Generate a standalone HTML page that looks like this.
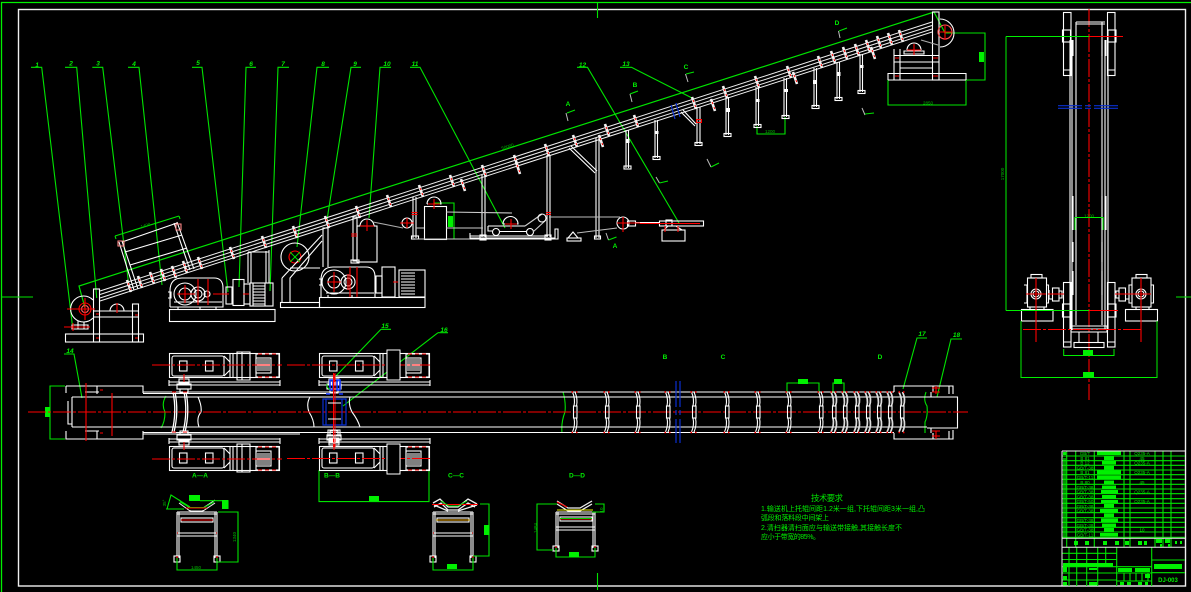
<!DOCTYPE html>
<html><head><meta charset="utf-8"><title>Belt conveyor drawing</title>
<style>html,body{margin:0;padding:0;background:#000;width:1191px;height:592px;overflow:hidden}svg{display:block}
text{font-family:"Liberation Sans","Noto Sans CJK SC",sans-serif;fill:#00f000}
.w{stroke:#fff;fill:none;stroke-width:1.1}.g{stroke:#00e400;fill:none;stroke-width:1.1}.r{stroke:#f00;fill:none;stroke-width:1.1}.b{stroke:#0a2fd0;fill:none;stroke-width:1.2}
.cl{stroke:#f00;fill:none;stroke-width:1.1;stroke-dasharray:18 2 3 2}.gb{fill:#00f000;stroke:none}
.n{font-size:6.5px;font-style:italic;font-weight:bold;text-anchor:middle}.s{font-size:6.5px;font-weight:bold;text-anchor:middle}.d{font-size:4.5px;text-anchor:middle;fill:#00b800}
</style></head><body>
<svg width="1191" height="592" viewBox="0 0 1191 592" xmlns="http://www.w3.org/2000/svg">
<defs>
<g id="idl"><path d="M-2,-6 L2,6" stroke="#f4f4f4" stroke-width="2.6" fill="none"/><path d="M-1,-3 l1,2 M1,2 l.7,2" stroke="#f00" stroke-width="1" fill="none"/></g>
<g id="pi"><path d="M-1.5,392 Q1.5,399 0,406 M1,392 Q4,399 2.5,406 M-1.5,432 Q1.5,425 0,418 M1,432 Q4,425 2.5,418" class="w"/><rect x="-.5" y="406" width="3.5" height="12" class="w"/><path d="M-2.5,392h1.5M2,392h1.5M-2.5,432.5h1.5M2,432.5h1.5" stroke="#f00" stroke-width="1.4"/></g>
<g id="pi2"><path d="M-2,392 Q1.5,399 0,406 M1.5,392 Q5,399 2.5,406 M-2,432 Q1.5,425 0,418 M1.5,432 Q5,425 2.5,418" stroke="#ddd" stroke-width="1.7" fill="none"/><rect x="-.5" y="406" width="3.5" height="12" class="w"/><path d="M-2.5,392h1.5M2,392h1.5M-2.5,432.5h1.5M2,432.5h1.5" stroke="#f00" stroke-width="1.4"/></g>
<g id="pu" class="w">
<rect x="169.5" y="353.5" width="110" height="24"/><rect x="172" y="356" width="52" height="20" rx="2"/><rect x="179.5" y="361" width="7.5" height="10"/><rect x="205.5" y="361" width="7.5" height="10"/>
<path d="M224,356 l6,6 v8 l-6,6 M230,354v23M233,354v23M237,352v28h13v-28zM242,352v28"/>
<rect x="256" y="354" width="23" height="23"/><rect x="256" y="358" width="15" height="15"/><path d="M257,360h13M257,362h13M257,364h13M257,366h13M257,368h13M257,370h13"/>
<path d="M258,354h4M265,354h4M272,354h4M258,377h4M265,377h4M272,377h4" stroke="#f00"/>
<path d="M169,382h111M169,385h111M169,380v6M280,380v6"/>
<rect x="179" y="379" width="10" height="4"/><rect x="177" y="384" width="14" height="5"/><rect x="180" y="389" width="8" height="4"/>
<path d="M184,374v8" class="cl" stroke-dasharray="none"/>
</g>
<g id="leg" class="w"><path d="M0,0v46M2,0v46M38,0v46M40,0v46"/><path d="M0,0h40M0,2h40"/><rect x="-3" y="44" width="6" height="6" /><rect x="37" y="44" width="6" height="6"/><path d="M0,21h40M0,24h40"/><rect x="4" y="6" width="32" height="4"/><path d="M4,8h32" stroke="#f00"/><path d="M0,44v4M40,44v4M0,21h1M39,21h1" stroke="#f00"/></g>
</defs>
<rect width="1191" height="592" fill="#000"/>
<!-- borders -->
<path d="M1.5,592V2.5H1191" stroke="#00f000" stroke-width="1.3" fill="none"/>
<rect x="18.5" y="9.5" width="1167" height="576.5" fill="none" stroke="#f0f0f0" stroke-width="1.4"/>
<path d="M1.5,297H33M1176,297H1191M597.5,3V18M597.5,573V590" class="g"/>

<!-- leaders + dims -->
<g class="g">
<path d="M31,67.3H41.7L72.7,328M65,67.3H76.7L96.7,298M92.3,67.3H102.7L129,287M128,67.3H139L162,285M192,67.3H202L228,292M256,67.3H246L239,287M289,67.3H278L270,291M329,67.3H317L297,247M361,67.3H351L327,220M391,67.3H380L369,218M410,67.3H420L505,228M577,67.3H587.5L679,223M620,67.3H631.5L694,99"/>
<path d="M85,308L79,286L934,12L945,33" stroke-width="1.2"/>
<path d="M115,236L179,216M115,236l1,3M179,216l1,3"/>
<path d="M945,33H985V80H945M888,80V105H966V80M757,126V134H785V117"/>
<path d="M434,203H454V239H434"/>
<path d="M381,329.3H391M381,329.3L335,377M438,332.7H448M438,332.7L343,406M64,354H74L82,398M927,338H917L903,389M962,339H951L937,397"/>
<path d="M65,386H50V439H65M787,393V383H819V393M833,393V383H844V393M319,470V501.6H429V470"/>
<path d="M166,396 Q161,404 165,412 Q165,422 161,428M563,392 Q566,402 565,412 Q561,422 562,433M926,392 Q923,400 927,406 Q928,416 925,422V433"/>
</g>
<g class="gb"><rect x="448" y="216" width="5" height="11"/><rect x="979" y="52" width="5" height="10"/><rect x="45" y="407" width="5" height="10"/><rect x="798" y="379" width="10" height="5"/><rect x="834" y="379" width="8" height="5"/><rect x="369" y="496" width="10" height="5"/></g>
<g>
<text class="n" x="37" y="67">1</text><text class="n" x="71" y="65.5">2</text><text class="n" x="98" y="65.5">3</text><text class="n" x="134" y="66">4</text><text class="n" x="198" y="65">5</text><text class="n" x="251" y="66">6</text><text class="n" x="283" y="66">7</text><text class="n" x="323" y="66">8</text><text class="n" x="355" y="66">9</text><text class="n" x="387" y="66">10</text><text class="n" x="415" y="66">11</text><text class="n" x="582.5" y="67">12</text><text class="n" x="626" y="66">13</text>
<text class="n" x="70" y="353">14</text><text class="n" x="385" y="328">15</text><text class="n" x="444" y="332">16</text><text class="n" x="922" y="336">17</text><text class="n" x="956.5" y="337">18</text>
<text class="d" transform="translate(508,148) rotate(-18)">50000</text><text class="d" transform="translate(146,227) rotate(-18)">1400</text>
<text class="d" x="928" y="104.5">2850</text><text class="d" x="770" y="133">1200</text><text class="d" x="1089" y="217.5">1200</text>
<text class="d" transform="translate(1004,174) rotate(-90)">17000</text>
</g>
<!-- section markers -->
<g>
<text class="s" x="568" y="106">A</text><text class="s" x="635" y="87">B</text><text class="s" x="686" y="69">C</text><text class="s" x="837" y="25">D</text><text class="s" x="615" y="248">A</text>
<text class="s" x="665" y="359">B</text><text class="s" x="723" y="359">C</text><text class="s" x="880" y="359">D</text>
<text class="s" x="200" y="477.5">A—A</text><text class="s" x="332" y="477.5">B—B</text><text class="s" x="456" y="477.5">C—C</text><text class="s" x="577" y="477.5">D—D</text>
</g>
<path d="M566,113l2,8M630,94l2,8M685.5,74l2.5,8M838.5,31l1.5,7M862,108l3,7M707,159l4,8M656,177l3.5,6M606,233l2.5,7" stroke="#bbb" fill="none"/>
<path d="M567,113l8,-3M630,94l8,-3M686,74l8,-2M839,31l8,-3M865,114l9,-1M711,167l8,-4M659.5,183l8.5,-2M608.5,240l8,-3" class="g"/>

<!-- belt -->
<g stroke="#f0f0f0" fill="none" stroke-width="1">
<path d="M100,291L932,22M100,294.5L932,25.5M100,298L932,29M100,301L932,32"/>
</g>
<!-- idlers -->
<g>
<use href="#idl" x="129" y="286"/><use href="#idl" x="140" y="282"/><use href="#idl" x="152" y="278"/><use href="#idl" x="163" y="275"/><use href="#idl" x="174" y="272"/><use href="#idl" x="185" y="267"/><use href="#idl" x="200" y="263"/><use href="#idl" x="232" y="253"/><use href="#idl" x="264" y="242"/><use href="#idl" x="295" y="232"/><use href="#idl" x="327" y="222"/><use href="#idl" x="358" y="212"/><use href="#idl" x="389" y="201"/><use href="#idl" x="421" y="191"/><use href="#idl" x="452" y="181"/><use href="#idl" x="484" y="171"/><use href="#idl" x="516" y="161"/><use href="#idl" x="547" y="150"/><use href="#idl" x="575" y="141"/><use href="#idl" x="607" y="130"/><use href="#idl" x="636" y="121"/><use href="#idl" x="694" y="103"/><use href="#idl" x="725" y="92"/><use href="#idl" x="757" y="82"/><use href="#idl" x="789" y="72"/><use href="#idl" x="820" y="62"/><use href="#idl" x="833" y="57"/><use href="#idl" x="845" y="53"/><use href="#idl" x="857" y="50"/><use href="#idl" x="868" y="46"/><use href="#idl" x="879" y="42"/><use href="#idl" x="890" y="39"/><use href="#idl" x="901" y="36"/>
<use href="#idl" x="463" y="185"/><use href="#idl" x="518" y="168"/><use href="#idl" x="601" y="141"/><use href="#idl" x="713" y="105"/><use href="#idl" x="795" y="78"/><use href="#idl" x="873" y="53"/>
</g>
<!-- supports -->
<g class="w">
<path d="M413,197V238M416,197V238M482,175V237M485,175V237M547,155V237M550,155V237M596,138V238M599,138V238M626,130V168M628.5,130V168M655,120V158M657.5,120V158M697,107V144M700,107V144M726,97V135M728.5,97V135M756,87V126M758.5,87V126M784,78V117M786.5,78V117M814,68V107M816.5,68V107M837,62V99M839.5,62V99M860,54V92M862.5,54V92"/>
<rect x="411.5" y="236" width="7" height="3"/><rect x="594.5" y="236" width="6" height="3"/><rect x="624" y="166" width="7" height="3"/><rect x="653" y="156.5" width="7" height="3"/><rect x="695" y="142.5" width="7" height="3"/><rect x="724" y="133.5" width="7" height="3"/><rect x="754" y="124.5" width="7" height="3"/><rect x="782" y="115.5" width="7" height="3"/><rect x="812" y="105.5" width="7" height="3"/><rect x="835" y="97.5" width="7" height="3"/><rect x="858" y="90.5" width="7" height="3"/>
<path d="M569,148L595,173M571,146L597,171M681,112L695,126M683,110L696,124"/>
</g>
<g fill="#fff"><rect x="625.5" y="139" width="4" height="4"/><rect x="654.5" y="131" width="4" height="3"/><rect x="726" y="108" width="4" height="4"/><rect x="755.5" y="99" width="4" height="3"/><rect x="784" y="89" width="4" height="3"/><rect x="813" y="80" width="4" height="4"/><rect x="836.5" y="72" width="4" height="4"/><rect x="859.5" y="65" width="4" height="3"/></g>
<path d="M696.5,119.500h5v3h-5zM411.500,212.500h6M411.500,214.500h6M481,212.500h5M546,212.500h5M546,214.500h5" stroke="#f00" fill="none"/>
<path d="M671,105l4,14M676,103l4,14" class="b"/>

<!-- hopper -->
<g class="w">
<path d="M119,242L134,290M122,241L138,289M174,223L190,270M177,222L194,269"/>
<path d="M122,242L177,223M125,252L182,235M130,265L187,248"/>
<path d="M118,241h6v5h-6zM176,224h5v6h-5z" stroke="#f88"/>
</g>
<!-- left end -->
<g class="w">
<path d="M93,300A13,13 0 1 0 93,318"/><circle cx="85" cy="309" r="6" stroke="#f00"/><circle cx="85" cy="309" r="3.500" stroke="#f66"/>
<rect x="93.500" y="289" width="6" height="53"/><path d="M93,311H138M93,317H138"/><rect x="132.500" y="304" width="6" height="38"/>
<rect x="65.500" y="334" width="78" height="8"/><path d="M93,334H138"/>
<path d="M110,311A7,7 0 0 1 124,311"/><path d="M72,325h16v4h-16z M78,321v8M84,322v7"/>
</g>
<path d="M67,309H95M85,298V320M117,303V313M64,327H90M73,323V331M96,314h3M135,315h3M135,338h3M96,338h3" class="r"/>
<!-- drive 1 -->
<g class="w">
<rect x="169.500" y="309.500" width="105.500" height="12"/>
<path d="M170,307V291Q170,278 182,278H214Q223,278 223,288V307H170M168,292h3v6h-3M174,302h48M178,307v2M200,307v2M216,307v2"/>
<circle cx="185" cy="294" r="11"/><circle cx="185" cy="294" r="6"/><circle cx="198" cy="294" r="7"/><circle cx="198" cy="294" r="4"/><circle cx="207" cy="294" r="3"/>
<rect x="226" y="287" width="6" height="17"/><rect x="233" y="279.500" width="11" height="26"/><rect x="244" y="284" width="6" height="20"/>
<rect x="250" y="283" width="23" height="23"/><path d="M253,286h12M253,289h12M253,292h12M253,295h12M253,298h12M253,301h12M253,304h12M253,283v23M265,283v23"/>
<path d="M248,283V252M251,283V252M266,283V251M269,283V250M248,252h21"/>
</g>
<path d="M177,294H195M185,285V303M198,279V305M208,279V305M213,294H229M243,294H249" class="r"/>
<!-- drive 2 -->
<g class="w">
<rect x="319.500" y="297.500" width="105.500" height="10"/><rect x="280.500" y="302.500" width="39" height="5"/>
<path d="M321,297V280Q321,267 333,267H366Q375,267 375,277V297M319,279h3v6h-3M326,293h48M328,297v-2M352,297v-2"/>
<circle cx="334" cy="282" r="12"/><circle cx="334" cy="282" r="6"/><circle cx="348" cy="282" r="7"/><circle cx="348" cy="282" r="4"/>
<rect x="376" y="276" width="6" height="17"/><rect x="382" y="267" width="13" height="30"/><rect x="399" y="270" width="26" height="27"/><path d="M401,273h14M401,276h14M401,279h14M401,282h14M401,285h14M401,288h14M401,291h14M401,294h14"/>
<circle cx="295" cy="257" r="14"/><circle cx="295" cy="257" r="6" stroke="#f00"/>
<path d="M282,278L322,235M282,302V278M290,302V278L322,241M323,267V228H328V267M323,228h5M290,268H320"/>
<rect x="353" y="217" width="4" height="44"/><rect x="351" y="260" width="8" height="3"/><rect x="357" y="226" width="20" height="36"/><path d="M360,226A7,7 0 0 1 374,226"/>
<path d="M373,222L403,228" stroke="#aaa"/><circle cx="407" cy="223" r="5"/>
</g>
<path d="M327,282H341M334,272V292M348,274V290M350,267V297M357,267V297M393,282H398M367,220V231M360,226H374M400,223H414M407,218V228" class="r"/><path d="M351,234h6M351,236h6" stroke="#f00"/>
<path d="M290,252L300,262M300,252L290,262" stroke="#00e000"/>
<!-- take-up -->
<g class="w">
<rect x="424.500" y="206.500" width="22" height="33"/><path d="M427,204A7,7 0 0 1 441,204H427"/>
<path d="M446,212L512,213M446,228H483M416,228H424M415,239H483" stroke="#ccc"/>
<path d="M503,224A7.500,7.500 0 0 1 518,224H503M488,226H525M488,226v5h4M500,231.500h26"/><circle cx="496" cy="232" r="3.500"/><circle cx="530" cy="232" r="3.500"/>
<path d="M525,226L542,214M546,220L533,232" stroke="#ccc"/><circle cx="542" cy="218" r="4"/>
<path d="M470,233V238H555V229H558V239H470M470,236H548"/><rect x="480" y="235" width="6" height="5"/><rect x="545" y="235" width="6" height="5"/>
<path d="M549,217H620M577,233L617,228" stroke="#bbb"/>
<path d="M568,238L573,232L578,238Z"/><rect x="567" y="238" width="14" height="3"/>
<circle cx="623" cy="223" r="6"/><rect x="627.500" y="221" width="8" height="5"/><path d="M635,222.500H659" /><rect x="659.500" y="221" width="44" height="5"/><rect x="666" y="220" width="6" height="6"/>
<rect x="662" y="230" width="23" height="11"/><path d="M664,230L668,226H676L682,230"/>
</g>
<path d="M623,217V232M617,223H640M640,223.500H700M665,226V232M678,226V232M434,199V209M428,204H440M511,219V229M505,224H517" class="r"/>
<!-- right head -->
<g class="w">
<rect x="932.500" y="12" width="6.500" height="68"/>
<path d="M940,19A14,14 0 0 1 940,47"/><circle cx="945" cy="32" r="7" stroke="#f55"/>
<path d="M894,55.500H939M894,62H939M894,49V80M900,49V80M888,73.500H966M888,80H966M888,73V80M966,73V80M900,68H932"/>
<path d="M907,50A7,7 0 0 1 921,50M904,54h20v-3h-20z"/>
<path d="M921,40L938,45" stroke="#aaa"/>
</g>
<path d="M939,32H952M945,25V40M914,44V55M907,50H921M895,58h4M933,58h5M895,76h4M933,76h5" class="r"/>

<!-- plan view -->
<g class="w">
<path d="M143,392H894M143,393.500H330M72,397H927M72,427H927M143,432.500H894M143,434H300"/>
<path d="M72,397V427M68,401V424H72M66,386H143V393M66,386V393M66,431V439H143V431M927,397H957.500V428H927"/>
<path d="M97,386V394M97,431V439M85,392h14M85,431h14"/>
<path d="M198,397Q202,406 201,412Q196,418 199,427M310,397Q306,404 309,412Q314,420 314,427M350,397Q348,404 352,412Q358,420 360,427"/>
<path d="M894,392V386H933V392M894,433V439H933V433M931,386H953V394M931,439H953V430M931,392V397M931,428V433M949,386V394M949,431V439"/>
</g>
<path d="M86,383V441M112,393V436M100,390h3M100,433h3M932,388h8M932,392h8M932,431h8M932,436h8M936,386v8M936,431v8" class="r"/>
<path d="M28,412H968" class="cl" stroke-width="1.2"/>
<g class="w"><path d="M173,392Q177,412 172,432M175,392Q179,412 174,432M184,392Q188,412 183,432M186,392Q190,412 185,432" stroke-width="1.3"/></g>
<path d="M172,392h4M183,392h4M172,432h4M183,432h4" stroke="#f00"/>
<g>
<use href="#pu"/><use href="#pu" transform="translate(0,824) scale(1,-1)"/>
<use href="#pu" transform="translate(150,0)"/><use href="#pu" transform="translate(150,824) scale(1,-1)"/>
</g>
<path d="M152,365H282M152,459H282M287,365H432M287,458.500H432" class="cl"/>
<path d="M387,350h13v30h-13zM387,444h13v30h-13z" stroke="#fff" fill="#000"/>
<path d="M323,399H346V425H323zM326,399V425M342,399V425" class="b"/><path d="M330,383v-3h3v10h-3zM337,380h3v10h-3zM326,394h4M339,394h4" stroke="#1030ff" fill="none" stroke-width="1.600"/>
<path d="M333.500,373V447M335,373V447" stroke="#f00" fill="none"/><path d="M327,384a3,4 0 0 0 3,5" stroke="#00e000" fill="none"/>
<g class="w"><path d="M328,430h12v6h-12zM329,438h10v5h-10zM328,419H341M328,403H341"/></g>
<g>
<use href="#pi" x="574" y="0"/><use href="#pi" x="606" y="0"/><use href="#pi" x="637" y="0"/><use href="#pi" x="667" y="0"/><use href="#pi" x="693" y="0"/><use href="#pi" x="726" y="0"/><use href="#pi" x="757" y="0"/><use href="#pi" x="788" y="0"/><use href="#pi" x="820" y="0"/>
<use href="#pi2" x="833" y="0"/><use href="#pi2" x="844" y="0"/><use href="#pi2" x="856" y="0"/><use href="#pi2" x="867" y="0"/><use href="#pi2" x="878" y="0"/><use href="#pi2" x="889" y="0"/><use href="#pi2" x="901" y="0"/>
</g>
<path d="M676,381V407M676,410V415M676,419V443M680,381V407M680,410V415M680,419V443" class="b"/>

<!-- side view -->
<path d="M1089,9V400" class="cl" stroke-width="1.200"/>
<g class="w">
<path d="M1070,40V330M1072,40V330M1076,22V325M1102,22V325M1105,40V330M1108,40V330M1076,22H1105M1076,24H1105"/>
<rect x="1063.500" y="12.500" width="7.500" height="63"/><rect x="1107.500" y="12.500" width="7.500" height="63"/><path d="M1063,70h8M1107,70h8"/>
<rect x="1062.500" y="30" width="8" height="12"/><rect x="1108" y="30" width="8" height="12"/>
<rect x="1063.500" y="282.500" width="7.500" height="64.500"/><rect x="1107.500" y="282.500" width="7.500" height="64.500"/>
<rect x="1062.500" y="304" width="8" height="13"/><rect x="1108" y="304" width="8" height="13"/><path d="M1063,342h8M1107,342h8"/>
<path d="M1073,40V56M1073,196V230M1073,242V262M1073,271V295M1102,40V56M1102,196V230M1102,242V262M1102,271V295M1106,40V56M1106,196V230"/>
<path d="M1071,326H1107M1072,329H1106M1071,332H1107M1071,326v6M1107,326v6"/><rect x="1074" y="342.500" width="30" height="5"/><path d="M1079,332V342M1098,332V342"/>
</g>
<g class="b"><path d="M1058,105.700H1082M1085,105.700H1091M1094,105.700H1118M1058,108.300H1082M1085,108.300H1091M1094,108.300H1118"/></g>
<g id="gbx" class="w">
<rect x="1027.500" y="278" width="19" height="29"/><rect x="1031" y="274.500" width="11" height="3.500"/><path d="M1024,285h3v18h-3M1046,285h2.500v18h-2.500M1030,307v2.500M1044,307v2.500"/>
<circle cx="1036" cy="294" r="5"/><circle cx="1036" cy="294" r="3"/>
<rect x="1052.500" y="288" width="6.500" height="13"/><path d="M1049,290v9h3M1059,291h3v7h-3"/>
<rect x="1021.500" y="309.500" width="31.500" height="11.500"/>
</g>
<g class="w">
<rect x="1132" y="278" width="19" height="29"/><rect x="1136" y="274.500" width="11" height="3.500"/><path d="M1132,285h-3v18h3M1151,285h2.500v18h-2.500M1136,307v2.500M1149,307v2.500"/>
<circle cx="1141" cy="294" r="5"/><circle cx="1141" cy="294" r="3"/>
<rect x="1119" y="288" width="6.500" height="13"/><path d="M1129,290v9h-3M1119,291h-3v7h3"/>
<rect x="1125.500" y="309.500" width="32" height="11.500"/>
</g>
<path d="M1036,278V342M1141,278V342M1026,294H1046M1131,294H1151M1048,294H1064M1115,294H1131" class="r"/>
<path d="M1023,329.500H1142" class="cl"/>
<path d="M1089,36.500H1123M1089,310.500H1118" stroke="#f00" stroke-width="1" fill="none"/>
<path d="M1006,36.500H1089M1006,36.500V310.500M1006,310.500H1089M1075,230V217.500H1103V230M1063.700,349V355.500H1114V349M1021,321V377.500H1157V321" stroke="#00f000" fill="none"/>
<rect x="1083" y="350" width="10" height="5" class="gb"/><rect x="1083" y="372" width="11" height="5" class="gb"/>

<!-- sections -->
<g>
<use href="#leg" x="177" y="512"/><use href="#leg" x="433" y="512"/>
<g class="w"><path d="M556,512V548M558,512V548M593,512V548M595,512V548M556,512H595M556,514H595M556,527H595M556,530H595"/><rect x="553" y="546" width="6" height="5"/><rect x="592" y="546" width="6" height="5"/><rect x="560" y="517" width="32" height="4"/></g>
<path d="M560,519H592M556,546v3M595,546v3" stroke="#f00" fill="none"/>
<path d="M179,500L190,508H203L215,500M179,503L190,511H203L215,503M190,510V512M203,510V512" stroke="#f0f0f0" fill="none"/>
<path d="M180,502L190,507.500H204L214,502" stroke="#00e000" fill="none"/><path d="M186,508H207" stroke="#f00" fill="none"/>
<path d="M433,503L440,499L448,507H458L468,499L477,504M434,507L441,503L448,510H458L468,503L475,507M434,505L448,511M477,505L458,511" stroke="#f0f0f0" stroke-width="1.300" fill="none"/>
<path d="M432,504.500H478" stroke="#f00" fill="none"/><path d="M441,501L449,506H458L467,501" stroke="#00e000" fill="none"/>
<path d="M557,501L568,508H580L592,501M557,504L568,511H580L592,504" stroke="#f0f0f0" stroke-width="1.300" fill="none"/><path d="M557,502L567,507" stroke="#f00" fill="none"/><path d="M557,510H593" stroke="#f0f000" fill="none"/><path d="M560,518.500H592" stroke="#00d000" fill="none"/>
<path d="M436,520H470" stroke="#f0e000" stroke-width=".8"/>
</g>
<g class="g">
<path d="M177,558V570H217V558M218,512H238V562H218M200,500.700H228V509M220,512H228M166,509H184M167,509L171,495L190,507"/>
<path d="M433,558V570H473V558M480,504H489V556H473"/>
<path d="M556,548V557H595V548M557,504H537V550H553M595,504H604V512H592"/>
</g>
<g class="gb"><rect x="189" y="495" width="11" height="6"/><rect x="222" y="500" width="6" height="9"/><rect x="447" y="564" width="10" height="5"/><rect x="484" y="525" width="5" height="10"/><rect x="569" y="552" width="10" height="5"/></g>
<g>
<text class="d" x="196" y="569">1450</text><text class="d" transform="translate(236,537) rotate(-90)">1340</text><text class="d" transform="translate(166,503) rotate(-90)">35°</text>
<text class="d" transform="translate(537,528) rotate(-90)">1484</text><text class="d" transform="translate(603,510) rotate(-90)">10</text>
</g>

<!-- notes -->
<g style="fill:#00d000">
<text x="827" y="501" font-size="8.500" text-anchor="middle" textLength="32" style="fill:#00e000">技术要求</text>
<text x="761" y="511" font-size="7" textLength="164">1.输送机上托辊间距1.2米一组,下托辊间距3米一组,凸</text>
<text x="761" y="520" font-size="7" textLength="68">弧段和落料段中间架上</text>
<text x="761" y="530" font-size="7" textLength="141">2.清扫器清扫面应与输送带接触,其接触长度不</text>
<text x="761" y="539" font-size="7" textLength="59">应小于带宽的85%。</text>
</g>

<!-- title block -->
<g class="g" stroke-width=".9">
<path d="M1062,456H1185M1062,460.700H1185M1062,465.300H1185M1062,470H1185M1062,474.700H1185M1062,479.300H1185M1062,484.300H1185M1062,489H1185M1062,493.700H1185M1062,498.700H1185M1062,503.300H1185M1062,508H1185M1062,512.700H1185M1062,517.700H1185M1062,522.300H1185M1062,527.300H1185M1062,532H1185M1062,537.300H1185"/>
<path d="M1066.700,451V547M1075.700,451V547M1094.300,451V547M1124,451V547M1130,451V547M1155,451V547M1163,451V547M1171,451V547"/>
<path d="M1151.700,547V586M1151.700,560H1185M1151.700,572.700H1185M1116.700,547V586M1116.700,566.700H1151.700M1116.700,573H1151.700M1116.700,581H1151.700M1124,573V581M1130,573V581M1136,573V581M1142,573V581M1148,573V581"/>
<path d="M1062,553.300H1116.700M1062,559.500H1116.700M1062,566.700H1116.700M1062,573H1116.700M1062,580H1116.700M1069,547V586M1076.700,547V586M1086.700,547V586M1097.700,547V586M1105.700,547V566"/>
</g>
<path d="M1062,451H1185M1062,538.300H1185M1062,547.300H1185M1062,451V586" stroke="#f0f0f0" fill="none"/>
<g class="gb">
<rect x="1097" y="451.500" width="24" height="3.500"/><rect x="1104" y="456.500" width="10" height="3.500"/><rect x="1102" y="461" width="14" height="3.500"/><rect x="1104" y="466" width="10" height="3.500"/><rect x="1097" y="470.500" width="24" height="3.500"/><rect x="1097" y="475.500" width="24" height="3.500"/><rect x="1104" y="480.500" width="10" height="3.500"/><rect x="1102" y="485.500" width="14" height="3.500"/><rect x="1101" y="490" width="17" height="3.500"/><rect x="1102" y="495" width="14" height="3.500"/><rect x="1101" y="500" width="17" height="3.500"/><rect x="1104" y="504" width="10" height="3.500"/><rect x="1100" y="509" width="18" height="3.500"/><rect x="1104" y="513.500" width="10" height="3.500"/><rect x="1101" y="518.500" width="17" height="3.500"/><rect x="1102" y="523.500" width="14" height="3.500"/><rect x="1104" y="528" width="10" height="3.500"/><rect x="1100" y="533" width="18" height="3.500"/>
<rect x="1063" y="452" width="3" height="3"/><rect x="1063" y="458" width="3" height="79" opacity=".6"/>
<rect x="1074" y="541" width="4" height="4"/><rect x="1085" y="541" width="4" height="4"/><rect x="1103" y="541" width="4" height="4"/><rect x="1115" y="541" width="4" height="4"/><rect x="1125" y="541" width="4" height="4"/><rect x="1138" y="541" width="4" height="4"/><rect x="1144" y="541" width="3" height="4"/><rect x="1156" y="539" width="6" height="4"/><rect x="1165" y="539" width="5" height="4"/><rect x="1160" y="544" width="2" height="3"/><rect x="1168" y="544" width="2" height="3"/><rect x="1175" y="541" width="2" height="3"/><rect x="1180" y="541" width="2" height="3"/>
<rect x="1154" y="564" width="28" height="5"/><rect x="1118" y="568" width="14" height="4"/><rect x="1135" y="568" width="15" height="4"/>
<rect x="1063" y="563" width="50" height="3.500"/><rect x="1063" y="567" width="4" height="5"/><rect x="1063" y="576" width="4" height="4"/><rect x="1063" y="582" width="4" height="3.500"/><rect x="1089" y="582" width="8" height="3.500"/><rect x="1120" y="582" width="4" height="3"/><rect x="1127" y="582" width="4" height="3"/><rect x="1138" y="582" width="4" height="3"/><rect x="1145" y="582" width="3" height="3"/><rect x="1089" y="568" width="8" height="2"/><rect x="1145" y="574" width="5" height="4"/>
</g>
<g style="font-size:4.500px;text-anchor:middle;fill:#00d800">
<text x="1085" y="455">GB/T</text><text x="1085" y="460">B 81</text><text x="1085" y="464.500">B 12</text><text x="1085" y="469.500">GB/T-38</text><text x="1085" y="474">B 81</text><text x="1085" y="479">GB/T-11</text><text x="1085" y="484">B 80</text><text x="1085" y="489">GB/T-38</text><text x="1085" y="493.500">GB/T-38</text><text x="1085" y="498.500">GB/T-38</text><text x="1085" y="503">GB/T-50</text><text x="1085" y="508">GB/T-38</text><text x="1085" y="512.500">GB/T-38</text><text x="1085" y="522">GB/T-38</text><text x="1085" y="527">GB/T-38</text><text x="1085" y="531.500">GB/T-38</text><text x="1085" y="536.500">GB/T-11</text>
<text x="1142" y="455">Q235-A</text><text x="1142" y="460">45</text><text x="1142" y="464.500">Q235-A</text><text x="1142" y="474">Q235-A</text><text x="1142" y="484">45</text><text x="1142" y="493.500">Q235-A</text><text x="1142" y="503">Q235-A</text><text x="1142" y="531.500">10</text>
<text x="1168" y="582" font-size="6" font-weight="bold">DJ-003</text>
</g>
</svg>
</body></html>
